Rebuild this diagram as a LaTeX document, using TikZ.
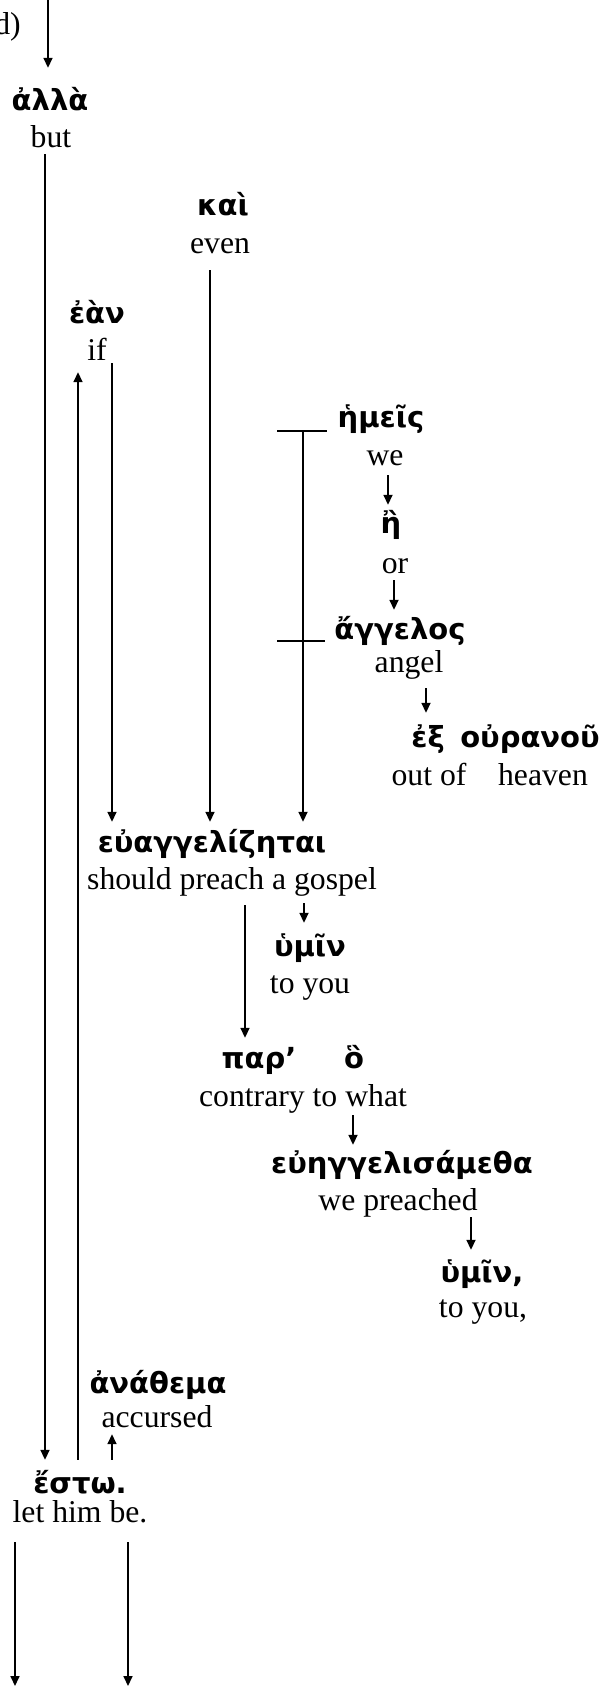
\documentclass[tikz,border=0pt]{standalone}
\usepackage{fontspec}
\setmainfont{Liberation Serif}
\newfontfamily\grkfont[Script=Greek]{DejaVu Sans}
\usetikzlibrary{arrows.meta}
\begin{document}
\begin{tikzpicture}[x=1pt,y=-1pt,
  en/.style={font=\fontsize{31.7}{36}\selectfont, inner sep=0pt, text height=21pt, text depth=7pt, anchor=base},
  gr/.style={font=\grkfont\bfseries\fontsize{29}{33}\selectfont, inner sep=0pt, text height=24pt, text depth=7pt, anchor=base},
  ln/.style={line width=1.7pt},
  arr/.style={line width=1.7pt, -{Triangle[length=10pt,width=9pt]}}]
\useasboundingbox (0,0) rectangle (600,1686);
% column coordinates
\coordinate (top) at (48,0);
\coordinate (bot) at (0,1686);
\coordinate (xA) at (45,0);
\coordinate (xB) at (78,0);
\coordinate (xC) at (112,0);
\coordinate (xD) at (210,0);
\coordinate (xE0) at (277,0);
\coordinate (xE) at (303,0);
\coordinate (xF) at (388,0);
\coordinate (xG) at (394,0);
\coordinate (xH) at (426,0);
\coordinate (xI) at (245,0);
\coordinate (xJ) at (304,0);
\coordinate (xK) at (353,0);
\coordinate (xL) at (471,0);
\coordinate (xM) at (15,0);
\coordinate (xN) at (128,0);
% nodes
\node[en, anchor=base east] (dd) at (21,35) {d)};
\node[gr] (gAlla) at (50,110) {ἀλλὰ};
\node[en] (eBut) at (51,147) {but};
\node[gr] (gKai) at (223,215) {καὶ};
\node[en] (eEven) at (220,253) {even};
\node[gr] (gEan) at (97,323) {ἐὰν};
\node[en] (eIf) at (97,360) {if};
\node[gr] (gHemeis) at (381,427) {ἡμεῖς};
\node[en] (eWe) at (385,465) {we};
\node[gr] (gE) at (391,533) {ἢ};
\node[en] (eOr) at (395,573) {or};
\node[gr] (gAngelos) at (400,639) {ἄγγελος};
\node[en] (eAngel) at (409,672) {angel};
\node[gr] (gEx) at (428,747) {ἐξ};
\node[gr] (gOuranou) at (530,747) {οὐρανοῦ};
\node[en] (eOutof) at (429,785) {out of};
\node[en] (eHeaven) at (543,785) {heaven};
\node[gr] (gEuang) at (212,852) {εὐαγγελίζηται};
\node[en] (eShould) at (232,889) {should preach a gospel};
\node[gr] (gHumin) at (310,956) {ὑμῖν};
\node[en] (eToyou) at (310,993) {to you};
\node[gr] (gPar) at (259,1068) {παρ’};
\node[gr] (gHo) at (354,1068) {ὃ};
\node[en] (eContrary) at (303,1106) {contrary to what};
\node[gr] (gEuengel) at (402,1173) {εὐηγγελισάμεθα};
\node[en] (eWepreached) at (398,1210) {we preached};
\node[gr] (gHumin2) at (482,1282) {ὑμῖν,};
\node[en] (eToyou2) at (483,1317) {to you,};
\node[gr] (gAnathema) at (158,1393) {ἀνάθεμα};
\node[en] (eAccursed) at (157,1427) {accursed};
\node[gr] (gEsto) at (80,1493) {ἔστω.};
\node[en] (eLet) at (80,1522) {let him be.};
% connectors
\draw[arr] (top) -- ([yshift=18pt]gAlla.north -| top);
\draw[arr] (eBut.south -| xA) -- ([yshift=9pt]gEsto.north -| xA);
\draw[arr] ([yshift=9pt]gEsto.north -| xB) -- ([yshift=-5pt]eIf.south -| xB);
\draw[arr] ([yshift=4pt]eIf.south -| xC) -- ([yshift=6pt]gEuang.north -| xC);
\draw[arr] ([yshift=-10pt]eEven.south -| xD) -- ([yshift=6pt]gEuang.north -| xD);
\draw[ln] ([yshift=-4pt]gHemeis.base west -| xE0) -- ([xshift=-10pt,yshift=-4pt]gHemeis.base west);
\draw[ln] ([yshift=-2pt]gAngelos.base west -| xE0) -- ([xshift=-9pt,yshift=-2pt]gAngelos.base west);
\draw[arr] ([yshift=-4pt]gHemeis.base west -| xE) -- ([yshift=6pt]gEuang.north -| xE);
\draw[arr] ([yshift=-3pt]eWe.south -| xF) -- ([yshift=4pt]gE.north -| xF);
\draw[arr] (eOr.south -| xG) -- ([yshift=5pt]gAngelos.north -| xG);
\draw[arr] ([yshift=-9pt]eAngel.south -| xH) -- ([yshift=10pt]gEx.north -| xH);
\draw[arr] ([yshift=-9pt]eShould.south -| xI) -- ([yshift=6pt]gPar.north -| xI);
\draw[arr] ([yshift=-7pt]eShould.south -| xJ) -- ([yshift=9pt]gHumin.north -| xJ);
\draw[arr] ([yshift=-2pt]eContrary.south -| xK) -- ([yshift=4pt]gEuengel.north -| xK);
\draw[arr] (eWepreached.south -| xL) -- ([yshift=8pt]gHumin2.north -| xL);
\draw[arr] ([yshift=9pt]gEsto.north -| xC) -- (eAccursed.south -| xC);
\draw[arr] ([yshift=-13pt]eLet.south -| xM) -- (bot -| xM);
\draw[arr] ([yshift=-13pt]eLet.south -| xN) -- (bot -| xN);
\end{tikzpicture}
\end{document}
